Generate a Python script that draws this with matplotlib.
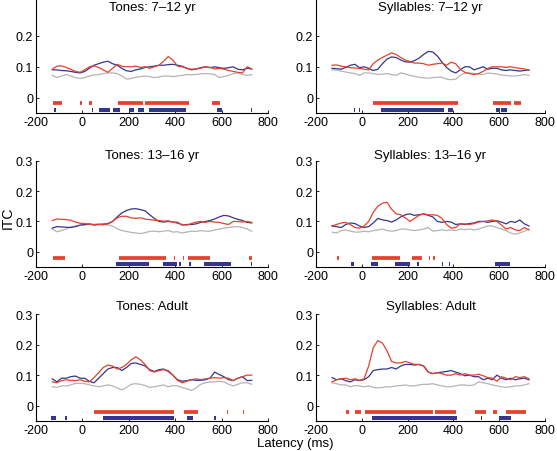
import numpy as np
import matplotlib
matplotlib.use("Agg")
import matplotlib.pyplot as plt

plt.rcParams['font.family'] = ['Liberation Sans', 'DejaVu Sans']
plt.rcParams['axes.unicode_minus'] = False

# latency grid (ms), read every 20 ms from the picture
latency = np.arange(-130, 731, 20)

# --- Tones: 7-12 yr ---
tones_712_red = [0.092, 0.102, 0.103, 0.098, 0.092, 0.085, 0.082, 0.090, 0.100, 0.103, 0.098,
                 0.090, 0.082, 0.095, 0.108, 0.102, 0.100, 0.100, 0.102, 0.098, 0.100, 0.095,
                 0.100, 0.105, 0.118, 0.133, 0.122, 0.102, 0.100, 0.095, 0.092, 0.093, 0.095,
                 0.100, 0.098, 0.093, 0.095, 0.092, 0.088, 0.085, 0.082, 0.080, 0.100, 0.093]
tones_712_blue = [0.090, 0.090, 0.088, 0.087, 0.085, 0.082, 0.080, 0.085, 0.095, 0.105, 0.110,
                  0.115, 0.118, 0.110, 0.105, 0.095, 0.087, 0.085, 0.090, 0.093, 0.098, 0.100,
                  0.102, 0.105, 0.105, 0.107, 0.108, 0.105, 0.102, 0.095, 0.090, 0.093, 0.097,
                  0.100, 0.097, 0.100, 0.097, 0.095, 0.097, 0.100, 0.092, 0.090, 0.095, 0.093]
tones_712_gray = [0.072, 0.065, 0.070, 0.075, 0.070, 0.065, 0.062, 0.065, 0.070, 0.073, 0.075,
                  0.078, 0.080, 0.080, 0.078, 0.070, 0.060, 0.062, 0.066, 0.068, 0.070, 0.068,
                  0.065, 0.067, 0.070, 0.070, 0.068, 0.070, 0.072, 0.075, 0.074, 0.075, 0.077,
                  0.078, 0.077, 0.075, 0.065, 0.068, 0.072, 0.078, 0.080, 0.075, 0.072, 0.075]
tones_712_red_sig = [(-128, -86), (-10, 0), (30, 41), (155, 263), (270, 460), (560, 593)]
tones_712_blue_sig = [(-121, -115), (41, 47), (72, 119), (133, 162), (202, 224), (241, 265),
                      (287, 445), (579, 603), (727, 733)]

# --- Syllables: 7-12 yr ---
syl_712_red = [0.105, 0.106, 0.102, 0.100, 0.097, 0.096, 0.095, 0.092, 0.090, 0.110, 0.122,
               0.130, 0.138, 0.145, 0.140, 0.130, 0.122, 0.117, 0.112, 0.112, 0.110, 0.105,
               0.108, 0.110, 0.112, 0.105, 0.115, 0.110, 0.092, 0.082, 0.078, 0.075, 0.078,
               0.085, 0.095, 0.100, 0.100, 0.100, 0.098, 0.100, 0.097, 0.095, 0.093, 0.088]
syl_712_blue = [0.095, 0.094, 0.092, 0.098, 0.105, 0.108, 0.097, 0.100, 0.095, 0.088, 0.092,
                0.110, 0.125, 0.132, 0.130, 0.122, 0.116, 0.115, 0.120, 0.128, 0.140, 0.150,
                0.148, 0.135, 0.115, 0.098, 0.086, 0.080, 0.090, 0.100, 0.100, 0.090, 0.095,
                0.100, 0.092, 0.095, 0.095, 0.090, 0.088, 0.090, 0.088, 0.086, 0.088, 0.090]
syl_712_gray = [0.090, 0.089, 0.086, 0.083, 0.080, 0.078, 0.072, 0.080, 0.080, 0.078, 0.075,
                0.076, 0.078, 0.075, 0.072, 0.080, 0.077, 0.072, 0.069, 0.066, 0.064, 0.063,
                0.065, 0.066, 0.066, 0.060, 0.058, 0.060, 0.072, 0.080, 0.080, 0.078, 0.076,
                0.075, 0.080, 0.078, 0.077, 0.073, 0.072, 0.070, 0.070, 0.072, 0.075, 0.072]
syl_712_red_sig = [(51, 418), (572, 651), (665, 694)]
syl_712_blue_sig = [(-34, -30), (-12, -6), (83, 359), (375, 399), (586, 605), (610, 633)]

# --- Tones: 13-16 yr ---
tones_1316_red = [0.103, 0.108, 0.107, 0.106, 0.104, 0.098, 0.094, 0.093, 0.091, 0.090, 0.090,
                  0.089, 0.092, 0.100, 0.112, 0.117, 0.117, 0.112, 0.110, 0.112, 0.108, 0.106,
                  0.104, 0.103, 0.101, 0.102, 0.098, 0.094, 0.090, 0.088, 0.093, 0.098, 0.100,
                  0.097, 0.100, 0.098, 0.097, 0.093, 0.090, 0.100, 0.100, 0.098, 0.100, 0.097]
tones_1316_blue = [0.078, 0.083, 0.082, 0.081, 0.080, 0.083, 0.088, 0.090, 0.092, 0.088, 0.090,
                   0.091, 0.093, 0.100, 0.115, 0.128, 0.136, 0.141, 0.142, 0.139, 0.135, 0.122,
                   0.110, 0.100, 0.098, 0.100, 0.098, 0.097, 0.088, 0.090, 0.090, 0.092, 0.097,
                   0.100, 0.103, 0.108, 0.115, 0.120, 0.118, 0.112, 0.107, 0.103, 0.097, 0.095]
tones_1316_gray = [0.075, 0.066, 0.070, 0.075, 0.082, 0.085, 0.087, 0.088, 0.090, 0.090, 0.092,
                   0.091, 0.088, 0.085, 0.076, 0.070, 0.067, 0.064, 0.062, 0.060, 0.063, 0.067,
                   0.068, 0.066, 0.068, 0.070, 0.065, 0.066, 0.062, 0.065, 0.068, 0.067, 0.070,
                   0.068, 0.068, 0.072, 0.075, 0.078, 0.080, 0.082, 0.083, 0.080, 0.075, 0.068]
tones_1316_red_sig = [(-125, -75), (159, 359), (393, 399), (432, 438), (457, 552), (720, 730)]
tones_1316_blue_sig = [(145, 288), (349, 406), (418, 424), (461, 467), (524, 639), (727, 733)]

# --- Syllables: 13-16 yr ---
syl_1316_red = [0.085, 0.090, 0.095, 0.097, 0.090, 0.080, 0.078, 0.085, 0.100, 0.130, 0.150,
                0.160, 0.163, 0.140, 0.125, 0.122, 0.112, 0.100, 0.110, 0.120, 0.125, 0.122,
                0.122, 0.120, 0.110, 0.090, 0.078, 0.080, 0.092, 0.092, 0.090, 0.093, 0.098,
                0.100, 0.102, 0.105, 0.100, 0.088, 0.075, 0.080, 0.072, 0.070, 0.080, 0.072]
syl_1316_blue = [0.085, 0.083, 0.080, 0.090, 0.095, 0.093, 0.085, 0.080, 0.083, 0.095, 0.110,
                 0.105, 0.103, 0.098, 0.105, 0.115, 0.122, 0.125, 0.120, 0.122, 0.125, 0.120,
                 0.115, 0.100, 0.097, 0.100, 0.098, 0.090, 0.092, 0.090, 0.093, 0.095, 0.100,
                 0.100, 0.097, 0.100, 0.102, 0.098, 0.092, 0.100, 0.097, 0.105, 0.092, 0.085]
syl_1316_gray = [0.065, 0.062, 0.070, 0.072, 0.068, 0.065, 0.065, 0.068, 0.066, 0.070, 0.072,
                 0.075, 0.070, 0.068, 0.070, 0.075, 0.075, 0.072, 0.070, 0.072, 0.075, 0.080,
                 0.068, 0.070, 0.072, 0.070, 0.072, 0.070, 0.075, 0.073, 0.075, 0.072, 0.075,
                 0.080, 0.085, 0.085, 0.080, 0.075, 0.070, 0.062, 0.058, 0.062, 0.068, 0.075]
syl_1316_red_sig = [(-107, -101), (44, 165), (220, 263), (293, 299), (313, 319)]
syl_1316_blue_sig = [(-49, -36), (40, 72), (145, 212), (242, 248), (350, 356), (379, 385),
                     (582, 646)]

# --- Tones: Adult ---
tones_adult_red = [0.078, 0.075, 0.082, 0.085, 0.083, 0.082, 0.085, 0.080, 0.078, 0.092, 0.108,
                   0.125, 0.133, 0.130, 0.120, 0.125, 0.135, 0.150, 0.160, 0.150, 0.135, 0.115,
                   0.110, 0.115, 0.118, 0.115, 0.100, 0.083, 0.075, 0.080, 0.085, 0.088, 0.085,
                   0.088, 0.090, 0.092, 0.090, 0.092, 0.090, 0.082, 0.090, 0.095, 0.100, 0.100]
tones_adult_blue = [0.088, 0.078, 0.090, 0.090, 0.095, 0.097, 0.090, 0.090, 0.080, 0.075, 0.090,
                    0.105, 0.120, 0.125, 0.125, 0.115, 0.125, 0.138, 0.140, 0.135, 0.130, 0.118,
                    0.112, 0.118, 0.120, 0.112, 0.100, 0.085, 0.080, 0.082, 0.085, 0.083, 0.083,
                    0.085, 0.090, 0.110, 0.102, 0.095, 0.085, 0.082, 0.090, 0.095, 0.082, 0.083]
tones_adult_gray = [0.062, 0.060, 0.065, 0.065, 0.068, 0.073, 0.073, 0.072, 0.068, 0.065, 0.062,
                    0.065, 0.068, 0.065, 0.058, 0.052, 0.060, 0.070, 0.072, 0.070, 0.066, 0.060,
                    0.062, 0.065, 0.068, 0.062, 0.066, 0.065, 0.060, 0.055, 0.050, 0.058, 0.070,
                    0.075, 0.078, 0.078, 0.080, 0.078, 0.070, 0.065, 0.070, 0.075, 0.075, 0.070]
tones_adult_red_sig = [(-76, -73), (51, 395), (438, 500), (625, 628), (692, 695), (730, 733)]
tones_adult_blue_sig = [(-135, -115), (-76, -66), (87, 396), (452, 478), (569, 575)]

# --- Syllables: Adult ---
syl_adult_red = [0.078, 0.085, 0.088, 0.090, 0.085, 0.088, 0.083, 0.088, 0.130, 0.190, 0.213,
                 0.205, 0.180, 0.145, 0.140, 0.140, 0.145, 0.140, 0.135, 0.135, 0.130, 0.110,
                 0.105, 0.108, 0.105, 0.100, 0.100, 0.105, 0.100, 0.105, 0.100, 0.100, 0.103,
                 0.098, 0.092, 0.090, 0.080, 0.095, 0.090, 0.085, 0.095, 0.092, 0.095, 0.088]
syl_adult_blue = [0.092, 0.085, 0.088, 0.082, 0.078, 0.085, 0.082, 0.085, 0.095, 0.115, 0.118,
                  0.120, 0.120, 0.125, 0.120, 0.130, 0.135, 0.135, 0.133, 0.135, 0.130, 0.110,
                  0.105, 0.108, 0.110, 0.112, 0.115, 0.110, 0.105, 0.098, 0.100, 0.095, 0.095,
                  0.085, 0.090, 0.085, 0.100, 0.090, 0.085, 0.090, 0.085, 0.088, 0.090, 0.085]
syl_adult_gray = [0.075, 0.072, 0.068, 0.068, 0.062, 0.066, 0.065, 0.062, 0.065, 0.060, 0.058,
                  0.060, 0.062, 0.062, 0.065, 0.066, 0.068, 0.065, 0.065, 0.068, 0.070, 0.070,
                  0.072, 0.068, 0.065, 0.062, 0.062, 0.065, 0.068, 0.068, 0.066, 0.068, 0.078,
                  0.075, 0.072, 0.068, 0.065, 0.062, 0.060, 0.062, 0.065, 0.065, 0.068, 0.072]
syl_adult_red_sig = [(-71, -56), (-28, -3), (16, 309), (320, 411), (493, 543), (572, 590),
                     (629, 715)]
syl_adult_blue_sig = [(44, 416), (520, 523), (600, 651)]

titles = ['Tones: 7–12 yr', 'Syllables: 7–12 yr',
          'Tones: 13–16 yr', 'Syllables: 13–16 yr',
          'Tones: Adult', 'Syllables: Adult']

RED = '#e5412c'
BLUE = '#35358f'
GRAY = '#b4b4b4'

panels = [
    (tones_712_red, tones_712_blue, tones_712_gray, tones_712_red_sig, tones_712_blue_sig),
    (syl_712_red, syl_712_blue, syl_712_gray, syl_712_red_sig, syl_712_blue_sig),
    (tones_1316_red, tones_1316_blue, tones_1316_gray, tones_1316_red_sig, tones_1316_blue_sig),
    (syl_1316_red, syl_1316_blue, syl_1316_gray, syl_1316_red_sig, syl_1316_blue_sig),
    (tones_adult_red, tones_adult_blue, tones_adult_gray, tones_adult_red_sig, tones_adult_blue_sig),
    (syl_adult_red, syl_adult_blue, syl_adult_gray, syl_adult_red_sig, syl_adult_blue_sig),
]

W, H = 557, 452
fig = plt.figure(figsize=(W / 100, H / 100), dpi=100)

# axes boxes in pixels: (left, top, right, bottom)
col_px = [(36, 268), (316, 545)]
row_px = [(0, 114), (161.7, 268), (315, 422)]
row_ylim = [(-0.05, 0.32), (-0.05, 0.3), (-0.05, 0.3)]
title_y_px = [8, 156, 307]

for i, (red, blue, gray, red_sig, blue_sig) in enumerate(panels):
    r, c = divmod(i, 2)
    x0, x1 = col_px[c]
    y0, y1 = row_px[r]
    ax = fig.add_axes([x0 / W, 1 - y1 / H, (x1 - x0) / W, (y1 - y0) / H])

    ax.plot(latency, gray, color=GRAY, lw=0.9)
    ax.plot(latency, blue, color=BLUE, lw=0.9)
    ax.plot(latency, red, color=RED, lw=0.9)

    for s, e in red_sig:
        ax.plot([s, e], [-0.019, -0.019], color=RED, lw=2.7, solid_capstyle='butt')
    for s, e in blue_sig:
        ax.plot([s, e], [-0.040, -0.040], color=BLUE, lw=2.9, solid_capstyle='butt')

    ax.set_xlim(-200, 800)
    ax.set_ylim(*row_ylim[r])
    ax.set_xticks([-200, 0, 200, 400, 600, 800])
    ax.set_yticks([0, 0.1, 0.2] if r == 0 else [0, 0.1, 0.2, 0.3])
    ax.set_yticklabels(['0', '0.1', '0.2'] if r == 0 else ['0', '0.1', '0.2', '0.3'])
    ax.spines['top'].set_visible(False)
    ax.spines['right'].set_visible(False)
    ax.spines['left'].set_linewidth(0.8)
    ax.spines['bottom'].set_linewidth(0.8)
    ax.tick_params(direction='in', length=2.5, width=0.6, labelsize=9, pad=2)
    ax.patch.set_alpha(0)

    fig.text((x0 + x1) / 2 / W, 1 - title_y_px[r] / H, titles[i],
             ha='center', va='center', fontsize=9.5)

fig.text(8 / W, 1 - 218 / H, 'ITC', rotation=90, ha='center', va='center', fontsize=10)
fig.text(295 / W, 1 - 444 / H, 'Latency (ms)', ha='center', va='center', fontsize=9.5)

fig.savefig('out.png', dpi=100)
